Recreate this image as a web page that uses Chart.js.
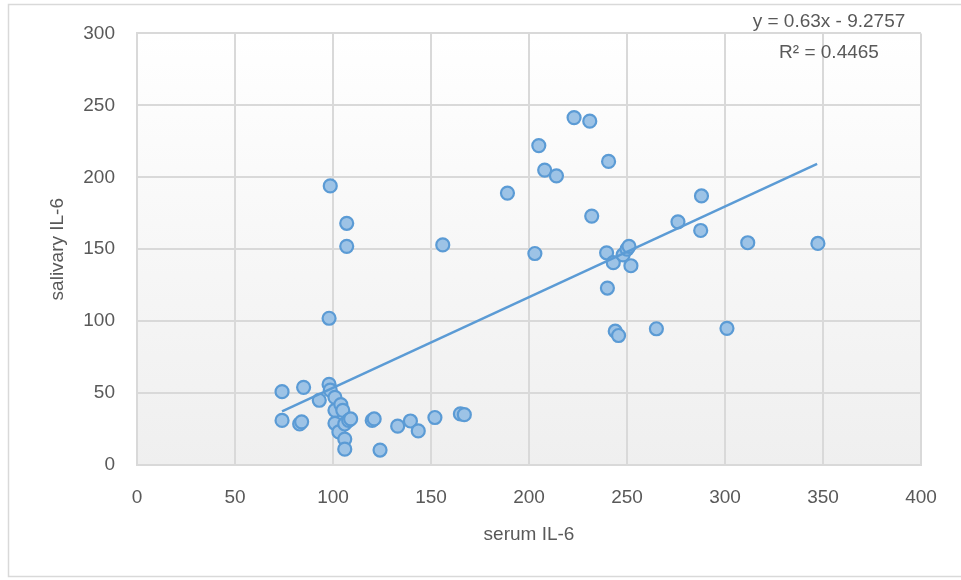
<!DOCTYPE html>
<html>
<head>
<meta charset="utf-8">
<script src="https://cdn.jsdelivr.net/npm/chart.js@4/dist/chart.umd.min.js"></script>
<style>
  html, body { margin: 0; padding: 0; background: #fff; }
  #wrap { position: relative; width: 961px; height: 580px; }
</style>
</head>
<body>
<div id="wrap"><canvas id="chart"></canvas></div>
<script>
// ── dados (IL-6 sérico vs salivar) ──────────────────────────────────────────
const serumIL6 = [
  74, 74, 83, 84, 85, 93, 98.6, 98, 98, 98.6,
  101, 101, 101, 104, 105, 103, 106, 106, 107, 107,
  106, 108, 109, 120, 121, 124, 133, 139.5, 143.5, 152,
  156, 165, 167, 189, 203, 205, 208, 214, 223, 231,
  232, 240.6, 239.6, 240, 243, 244, 245.7, 248, 250, 251,
  252, 265, 276, 287.6, 288, 301, 311.6, 347.4
];
const salivaryIL6 = [
  51, 31, 28.5, 30, 54, 45, 194, 102, 56, 52,
  47, 38, 29, 42, 38, 23, 18, 11, 168, 152,
  28.5, 31, 32, 31, 32, 10.4, 27, 30.6, 23.7, 33,
  153, 35.5, 35, 189, 147, 222, 205, 201, 241.5, 239,
  173, 211, 147.5, 123, 140.6, 93, 90, 146, 150, 152,
  138.5, 94.7, 169, 163, 187, 95, 154.5, 154
];
// linha de tendência (extremos)
const trendX = [74, 347];
const trendY = [37.3, 209.3];

const xTicks = [0, 50, 100, 150, 200, 250, 300, 350, 400];
const yTicks = [0, 50, 100, 150, 200, 250, 300];

const equationText = 'y = 0.63x - 9.2757';
const r2Text = 'R² = 0.4465';

const TEXT = '#595959';
const GRID = '#d9d9d9';
const FONT = '"Liberation Sans", Arial, sans-serif';

const points = serumIL6.map((x, i) => ({ x, y: salivaryIL6[i] }));
const trend = trendX.map((x, i) => ({ x, y: trendY[i] }));

// fundo em degradê da área do gráfico + moldura exterior
const backgroundPlugin = {
  id: 'background',
  beforeDraw(chart) {
    const { ctx, chartArea: a } = chart;
    ctx.save();
    ctx.strokeStyle = GRID;
    ctx.lineWidth = 1.5;
    ctx.strokeRect(8.5, 4.5, 1000, 572);
    const g = ctx.createLinearGradient(0, a.top, 0, a.bottom);
    g.addColorStop(0, '#ffffff');
    g.addColorStop(1, '#efefef');
    ctx.fillStyle = g;
    ctx.fillRect(a.left, a.top, a.right - a.left, a.bottom - a.top);
    ctx.restore();
  }
};

// equação e R² da linha de tendência
const equationPlugin = {
  id: 'equation',
  afterDraw(chart) {
    const { ctx } = chart;
    ctx.save();
    ctx.fillStyle = TEXT;
    ctx.font = '19px ' + FONT;
    ctx.textAlign = 'center';
    ctx.textBaseline = 'middle';
    ctx.fillText(equationText, 829, 22);
    ctx.fillText(r2Text, 829, 53);
    ctx.restore();
  }
};

new Chart(document.getElementById('chart'), {
  type: 'scatter',
  data: {
    datasets: [
      {
        data: trend,
        showLine: true,
        borderColor: '#5b9bd5',
        borderWidth: 2.5,
        pointRadius: 0,
        fill: false
      },
      {
        data: points,
        pointRadius: 6.5,
        pointBackgroundColor: '#9dc3e6',
        pointBorderColor: '#5b9bd5',
        pointBorderWidth: 2.2
      }
    ]
  },
  options: {
    responsive: true,
    maintainAspectRatio: false,
    animation: false,
    layout: { padding: { left: 0, top: 33, right: 40, bottom: 0 } },
    plugins: { legend: { display: false }, tooltip: { enabled: false } },
    scales: {
      x: {
        type: 'linear',
        min: 0, max: 400,
        afterBuildTicks: s => { s.ticks = xTicks.map(v => ({ value: v })); },
        afterFit: s => { s.height = 115; },
        grid: { color: GRID, lineWidth: 2, drawTicks: false },
        border: { color: GRID, width: 2 },
        ticks: { color: TEXT, font: { family: FONT, size: 19 }, padding: 21, maxRotation: 0 },
        title: { display: true, text: 'serum IL-6', color: TEXT, font: { family: FONT, size: 19 }, padding: { top: 0, bottom: 34 } }
      },
      y: {
        type: 'linear',
        min: 0, max: 300,
        afterBuildTicks: s => { s.ticks = yTicks.map(v => ({ value: v })); },
        afterFit: s => { s.width = 137; },
        grid: { color: GRID, lineWidth: 2, drawTicks: false },
        border: { color: GRID, width: 2 },
        ticks: { color: TEXT, font: { family: FONT, size: 19 }, padding: 22 },
        title: { display: true, text: 'salivary IL-6', color: TEXT, font: { family: FONT, size: 19 }, padding: { top: 46, bottom: 0 } }
      }
    }
  },
  plugins: [backgroundPlugin, equationPlugin]
});
</script>
</body>
</html>
